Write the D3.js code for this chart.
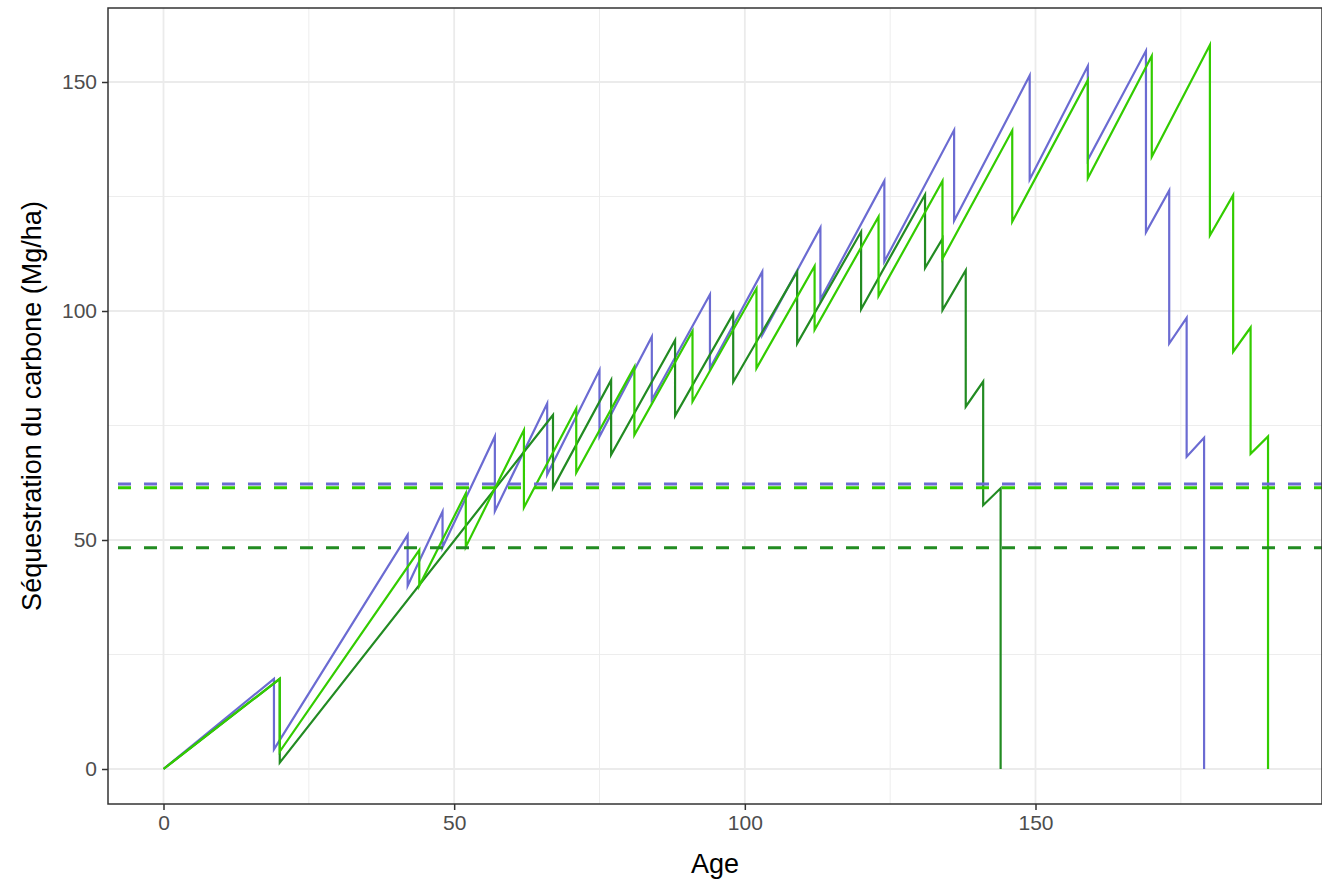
<!DOCTYPE html>
<html>
<head>
<meta charset="utf-8">
<script src="https://cdn.jsdelivr.net/npm/d3@7"></script>
<style>
  html, body { margin: 0; padding: 0; background: #ffffff; }
  svg { display: block; }
</style>
</head>
<body>
<div id="chart"></div>
<script>
// Carbon stock (Mg/ha) over stand age for three management scenarios.
// Repeated ages mark a thinning/harvest: value before, then value after.
const agesA = [0, 19, 19, 42, 42, 48, 48, 57, 57, 66, 66, 75, 75, 84, 84, 94, 94, 103, 103, 113, 113, 124, 124, 136, 136, 149, 149, 159, 159, 169, 169, 173, 173, 176, 176, 179, 179];
const valuesA = [0, 19.7, 4.3, 51.1, 40.0, 56.2, 48.4, 72.6, 56.3, 79.8, 64.3, 87.1, 72.6, 94.4, 80.6, 103.6, 87.5, 108.6, 94.8, 118.2, 102.5, 128.4, 110.8, 139.5, 119.7, 151.4, 128.7, 153.5, 133.0, 156.8, 117.2, 126.3, 92.9, 98.5, 68.2, 72.3, 0];

const agesB = [0, 20, 20, 44, 44, 52, 52, 62, 62, 71, 71, 81, 81, 91, 91, 102, 102, 112, 112, 123, 123, 134, 134, 146, 146, 159, 159, 170, 170, 180, 180, 184, 184, 187, 187, 190, 190];
const valuesB = [0, 19.7, 3.8, 47.8, 40.0, 60.2, 48.5, 74.0, 57.1, 78.7, 64.7, 87.8, 72.9, 95.6, 80.2, 104.9, 87.5, 109.8, 95.9, 120.6, 103.3, 128.4, 111.4, 139.4, 119.5, 150.4, 129.0, 155.7, 133.7, 158.1, 116.5, 125.3, 91.1, 96.4, 68.8, 72.6, 0];

const agesC = [0, 20, 20, 67, 67, 77, 77, 88, 88, 98, 98, 109, 109, 120, 120, 131, 131, 134, 134, 138, 138, 141, 141, 144, 144];
const valuesC = [0, 19.7, 1.4, 77.3, 61.4, 84.9, 68.6, 93.6, 77.1, 99.4, 84.5, 108.6, 92.9, 117.3, 100.4, 125.4, 109.4, 115.8, 100.2, 108.9, 79.1, 84.6, 57.6, 61.3, 0];

// Mean carbon stock of each scenario (dashed reference lines)
const meanValues = [62.2, 61.4, 48.3];
const seriesColors = ["#6b6bd2", "#33cc00", "#228b22"];

const xTicks = [0, 50, 100, 150];
const yTicks = [0, 50, 100, 150];
const xMinor = [25, 75, 125, 175];
const yMinor = [25, 75, 125];

const W = 1322, H = 882;
const panel = { left: 108, top: 8, right: 1322, bottom: 804 };

const x = d3.scaleLinear().domain([0, 150]).range([163.5, 1035.5]);
const y = d3.scaleLinear().domain([0, 150]).range([769, 82]);

const svg = d3.select("#chart").append("svg")
  .attr("width", W).attr("height", H)
  .style("font-family", "'Liberation Sans', Arial, sans-serif");

svg.append("defs").append("clipPath").attr("id", "panel-clip")
  .append("rect")
  .attr("x", panel.left).attr("y", panel.top)
  .attr("width", panel.right - panel.left).attr("height", panel.bottom - panel.top);

// Background
svg.append("rect")
  .attr("x", panel.left).attr("y", panel.top)
  .attr("width", panel.right - panel.left).attr("height", panel.bottom - panel.top)
  .attr("fill", "#ffffff");

const grid = svg.append("g").attr("clip-path", "url(#panel-clip)");
// Minor grid
grid.selectAll("line.xminor").data(xMinor).enter().append("line")
  .attr("x1", d => x(d)).attr("x2", d => x(d))
  .attr("y1", panel.top).attr("y2", panel.bottom)
  .attr("stroke", "#ebebeb").attr("stroke-width", 0.9);
grid.selectAll("line.yminor").data(yMinor).enter().append("line")
  .attr("y1", d => y(d)).attr("y2", d => y(d))
  .attr("x1", panel.left).attr("x2", panel.right)
  .attr("stroke", "#ebebeb").attr("stroke-width", 0.9);
// Major grid
grid.selectAll("line.xmajor").data(xTicks).enter().append("line")
  .attr("x1", d => x(d)).attr("x2", d => x(d))
  .attr("y1", panel.top).attr("y2", panel.bottom)
  .attr("stroke", "#ebebeb").attr("stroke-width", 1.8);
grid.selectAll("line.ymajor").data(yTicks).enter().append("line")
  .attr("y1", d => y(d)).attr("y2", d => y(d))
  .attr("x1", panel.left).attr("x2", panel.right)
  .attr("stroke", "#ebebeb").attr("stroke-width", 1.8);

// Series lines
const series = [
  { ages: agesA, values: valuesA, color: seriesColors[0] },
  { ages: agesC, values: valuesC, color: seriesColors[2] },
  { ages: agesB, values: valuesB, color: seriesColors[1] }
];
const line = d3.line().x(d => x(d[0])).y(d => y(d[1]));
const plot = svg.append("g").attr("clip-path", "url(#panel-clip)");
series.forEach(s => {
  const pts = s.ages.map((a, i) => [a, s.values[i]]);
  plot.append("path")
    .datum(pts)
    .attr("d", line)
    .attr("fill", "none")
    .attr("stroke", s.color)
    .attr("stroke-width", 2.2)
    .attr("stroke-linejoin", "miter")
    .attr("stroke-miterlimit", 10);
});

// Mean reference lines
plot.selectAll("line.mean").data(meanValues).enter().append("line")
  .attr("x1", panel.left).attr("x2", panel.right)
  .attr("y1", d => y(d)).attr("y2", d => y(d))
  .attr("stroke", (d, i) => seriesColors[i])
  .attr("stroke-width", 3)
  .attr("stroke-dasharray", "13 13")
  .attr("stroke-dashoffset", -10);

// Panel border
svg.append("rect")
  .attr("x", panel.left).attr("y", panel.top)
  .attr("width", panel.right - panel.left).attr("height", panel.bottom - panel.top)
  .attr("fill", "none").attr("stroke", "#333333").attr("stroke-width", 1.5);

// Axes
const xAxis = d3.axisBottom(x).tickValues(xTicks).tickSize(6).tickPadding(5).tickFormat(d3.format("d"));
const yAxis = d3.axisLeft(y).tickValues(yTicks).tickSize(6).tickPadding(5).tickFormat(d3.format("d"));

const gx = svg.append("g").attr("transform", `translate(0,${panel.bottom})`).call(xAxis);
const gy = svg.append("g").attr("transform", `translate(${panel.left},0)`).call(yAxis);
[gx, gy].forEach(g => {
  g.select(".domain").remove();
  g.selectAll(".tick line").attr("stroke", "#333333").attr("stroke-width", 1.5);
  g.selectAll(".tick text")
    .attr("fill", "#4d4d4d")
    .style("font-size", "21px")
    .style("font-family", "'Liberation Sans', Arial, sans-serif");
});

// Axis titles
svg.append("text")
  .attr("x", (panel.left + panel.right) / 2)
  .attr("y", 873)
  .attr("text-anchor", "middle")
  .attr("fill", "#000000")
  .style("font-size", "27px")
  .text("Age");

svg.append("text")
  .attr("transform", `translate(41,${(panel.top + panel.bottom) / 2}) rotate(-90)`)
  .attr("text-anchor", "middle")
  .attr("fill", "#000000")
  .style("font-size", "27px")
  .text("Séquestration du carbone (Mg/ha)");
</script>
</body>
</html>
